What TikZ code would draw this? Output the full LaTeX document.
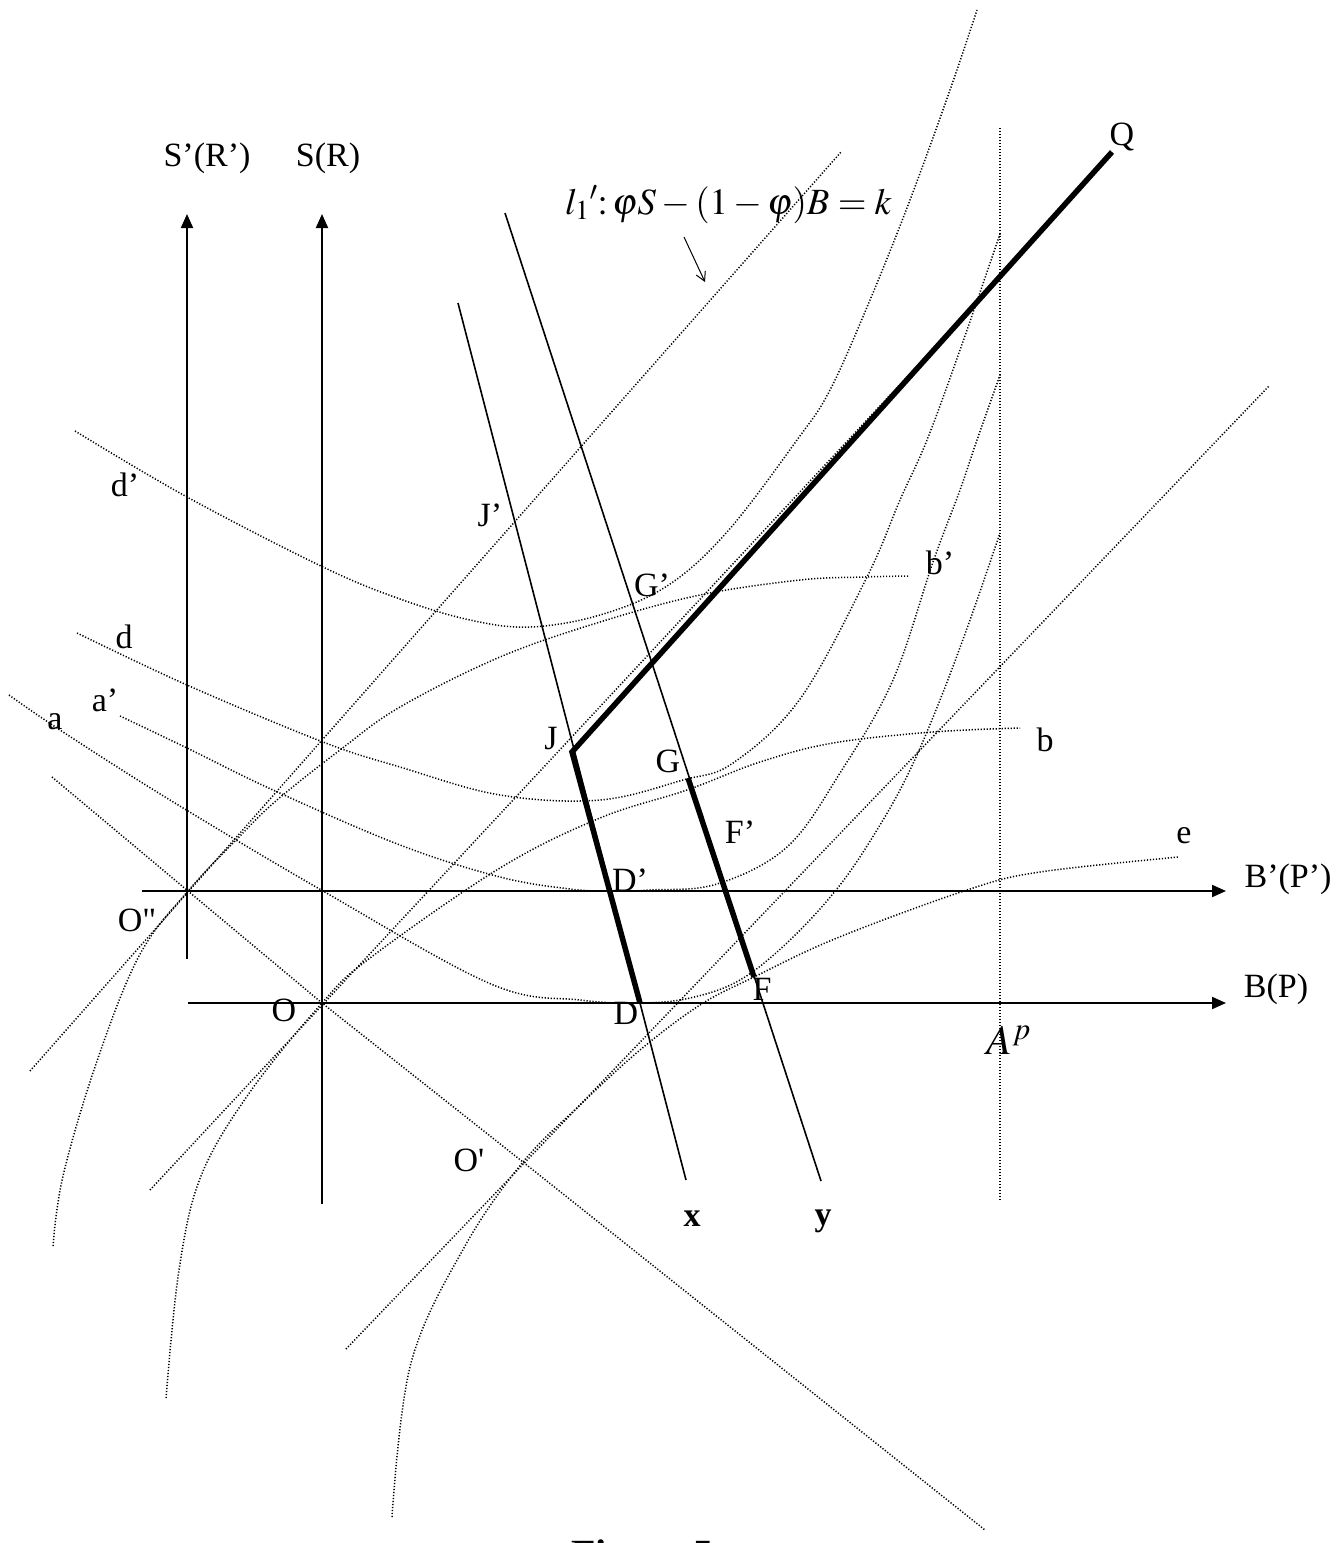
\documentclass[tikz,border=0pt]{standalone}
\usepackage{mathptmx}
\usepackage{fontspec}
\setmainfont{Liberation Serif}
\usetikzlibrary{arrows.meta}

\tikzset{
  dotcurve/.style={line width=1.5pt, dash pattern=on 1.2pt off 1.8pt},
  axisarrow/.style={line width=2pt, -{Triangle[length=14pt,width=12pt]}},
  boldseg/.style={line width=5.5pt},
  thinseg/.style={line width=1.6pt},
  lbl/.style={font=\fontsize{34}{40}\selectfont, inner sep=0pt},
}

\begin{document}
\begin{tikzpicture}[x=1pt,y=-1pt]
    \useasboundingbox (0,0) rectangle (1340,1543);

    % origins and corner points
    \coordinate (O2) at (188,891);
    \coordinate (O) at (322,1003);
    \coordinate (O1) at (523,1162);
    \coordinate (J) at (572,752);
    \coordinate (Q) at (1112,152);
    \coordinate (D) at (640,1003);
    \coordinate (G) at (688,778);
    \coordinate (F) at (754,977);

    % axes
    \draw[axisarrow] (187,959) -- (187,214);
    \draw[axisarrow] (322,1204) -- (322,214);
    \draw[axisarrow] (142,891) -- (1226,891);
    \draw[axisarrow] (188,1003) -- (1226,1003);

    % straight dotted lines
    \draw[dotcurve] (52,777) -- (O2) -- (O) -- (O1) -- (985,1530);
    \draw[dotcurve] (30,1071) -- (841,152);
    \draw[dotcurve] (150,1190) -- (1000,277);
    \draw[dotcurve] (346,1349) -- (1269,386);
    \draw[dotcurve] (1000,128) -- (1000,1201);

    % arcs through the origins
    \draw[dotcurve] plot[smooth, tension=0.6] coordinates {(53,1246) (63,1176) (96,1064) (139,956) (188,891) (240,836) (277,800) (340,750) (400,707) (500,657) (600,622) (700,595) (800,580) (863,577) (910,576)};
    \draw[dotcurve] plot[smooth, tension=0.6] coordinates {(166,1398) (179,1270) (201,1176) (250,1092) (322,1003) (370,958) (500,868) (600,818) (687,790) (760,762) (833,743) (933,732) (1020,728)};
    \draw[dotcurve] plot[smooth, tension=0.6] coordinates {(392,1517) (411,1363) (465,1246) (523,1162) (580,1105) (640,1050) (700,1005) (754,977) (837,938) (967,890) (1040,872) (1179,857)};

    % U-shaped curves
    \draw[dotcurve] plot[smooth, tension=0.6] coordinates {(75,431) (187,497) (323,567) (400,599) (470,620) (530,627) (600,615) (667,586) (727,532) (797,440) (830,390) (870,300) (910,200) (950,90) (977,10)};
    \draw[dotcurve] plot[smooth, tension=0.6] coordinates {(77,633) (187,685) (323,742) (400,767) (500,795) (600,800) (683,780) (733,763) (800,699) (867,577) (900,500) (927,440) (960,350) (1000,234)};
    \draw[dotcurve] plot[smooth, tension=0.6] coordinates {(120,716) (187,748) (273,790) (400,845) (500,877) (570,889) (610,891) (650,890) (717,884) (787,847) (840,773) (893,680) (933,562) (960,490) (977,440) (1000,375)};
    \draw[dotcurve] plot[smooth, tension=0.6] coordinates {(9,695) (60,730) (170,800) (323,891) (491,984) (580,1000) (640,1003) (690,998) (740,980) (790,940) (840,885) (880,825) (910,770) (940,700) (970,620) (1000,533)};

    % the x and y lines
    \draw[thinseg] (458,303) -- (686,1180);
    \draw[thinseg] (505,213) -- (821,1181);

    % heavy path
    \draw[boldseg] (Q) -- (J) -- (D);
    \draw[boldseg] (G) -- (F);

    % labels
    \node[lbl] (sr1) at (207,158) {S'(R')};
    \node[lbl] (sr) at (328,158) {S(R)};
    \node[lbl, anchor=base west, font=\fontsize{37}{42}\selectfont] (l1) at (565,214) {$l_1{}'\colon\varphi S-(1-\varphi)B=k$};
    \draw[line width=1pt, -{Straight Barb[length=9pt,width=10pt]}] (684,237) -- (705,282);
    \node[lbl] (q) at (1122,137) {Q};
    \node[lbl] (j1) at (490,515) {J'};
    \node[lbl] (g1) at (652,585) {G'};
    \node[lbl] (b1) at (940,563) {b'};
    \node[lbl] (d1) at (125,485) {d'};
    \node[lbl] (dd) at (124,637) {d};
    \node[lbl] (a1) at (105,700) {a'};
    \node[lbl] (aa) at (55,722) {a};
    \node[lbl] (j) at (551,739) {J};
    \node[lbl] (g) at (668,761) {G};
    \node[lbl] (bb) at (1045,740) {b};
    \node[lbl] (f1) at (740,832) {F'};
    \node[lbl] (ee) at (1184,836) {e};
    \node[lbl] (dpr) at (630,880) {D'};
    \node[lbl] (bp1) at (1288,879) {B'(P')};
    \node[lbl] (o2) at (137,920) {O\textquotedbl};
    \node[lbl] (bp) at (1276,989) {B(P)};
    \node[lbl] (f) at (762,989) {F};
    \node[lbl] (d) at (626,1013) {D};
    \node[lbl] (o) at (284,1010) {O};
    \node[lbl, font=\fontsize{42}{48}\selectfont] (ap) at (1009,1040) {$A^p$};
    \node[lbl] (o1) at (469,1160) {O\textquotesingle};
    \node[lbl, font=\fontsize{34}{40}\selectfont\bfseries] (xx) at (692,1219) {x};
    \node[lbl, font=\fontsize{34}{40}\selectfont\bfseries] (yy) at (823,1221) {y};
    \node[lbl, anchor=north west, font=\fontsize{40}{46}\selectfont\bfseries] (cap) at (571,1540) {Figure 5};
\end{tikzpicture}
\end{document}
